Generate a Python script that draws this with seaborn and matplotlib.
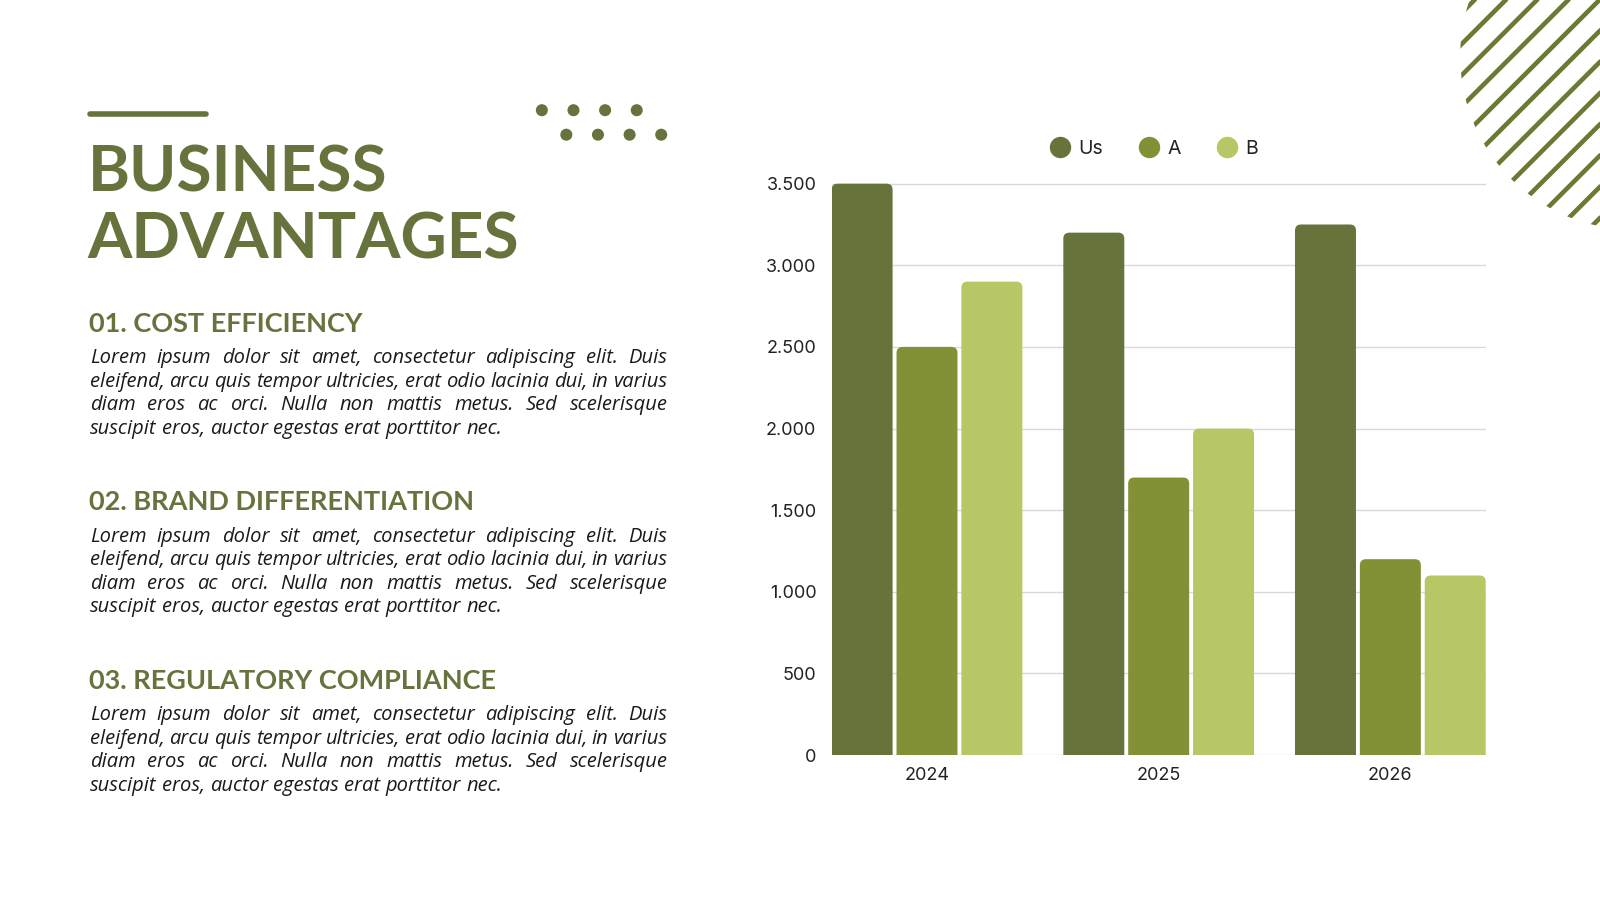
import seaborn as sns
import matplotlib.pyplot as plt
import pandas as pd
from matplotlib.patches import FancyBboxPatch, Circle
from matplotlib.lines import Line2D
from matplotlib.ticker import FuncFormatter

years = ['2024', '2025', '2026']
us = [3500, 3200, 3250]
comp_a = [2500, 1700, 1200]
comp_b = [2900, 2000, 1100]
series = ['Us', 'A', 'B']
colors = ['#66743c', '#839136', '#b7c765']
y_ticks = [0, 500, 1000, 1500, 2000, 2500, 3000, 3500]

title_lines = ['BUSINESS', 'ADVANTAGES']
headings = ['01. COST EFFICIENCY', '02. BRAND DIFFERENTIATION', '03. REGULATORY COMPLIANCE']
body = ['Lorem ipsum dolor sit amet, consectetur adipiscing elit. Duis',
        'eleifend, arcu quis tempor ultricies, erat odio lacinia dui, in varius',
        'diam eros ac orci. Nulla non mattis metus. Sed scelerisque',
        'suscipit eros, auctor egestas erat porttitor nec.']

GREEN = '#66733d'
W, H = 1568, 882  # layout measured on a 1568x882 view of the slide


def fx(x):
    return x / W


def fy(y):
    return 1 - y / H


sns.set_theme(style='white')
plt.rcParams['font.family'] = ['Lato', 'DejaVu Sans']

fig = plt.figure(figsize=(16, 9), dpi=100)
fig.patch.set_facecolor('white')

df = pd.DataFrame({
    'year': years * 3,
    'value': us + comp_a + comp_b,
    'series': [s for s in series for _ in years],
})

# chart
ymax = 3600
ax_top = 740 - ymax * 560 / 3500
ax = fig.add_axes([fx(815), fy(740), fx(1456) - fx(815), (740 - ax_top) / H])
sns.barplot(data=df, x='year', y='value', hue='series', palette=colors,
            width=0.84, gap=0.06, saturation=1, legend=False, ax=ax)
ax.set_ylim(0, ymax)
bars = list(ax.patches)
left = min(p.get_x() for p in bars)
right = max(p.get_x() + p.get_width() for p in bars)
ax.set_xlim(left, right)

fig.canvas.draw()
bb = ax.get_window_extent()
pxx = bb.width / (right - left)
pxy = bb.height / ymax
r_x = 6 / pxx
aspect = pxx / pxy
for p in bars:
    x, w, h = p.get_x(), p.get_width(), p.get_height()
    c = p.get_facecolor()
    p.remove()
    ext = r_x * aspect
    ax.add_patch(FancyBboxPatch((x, -ext), w, h + ext,
                                boxstyle=f'round,pad=0,rounding_size={r_x}',
                                mutation_aspect=aspect, fc=c, ec='none', zorder=2))

ax.set_yticks(y_ticks)
ax.yaxis.set_major_formatter(FuncFormatter(lambda v, _: f'{int(v):,}'.replace(',', '.')))
ax.grid(axis='y', color='#d9d9d9', lw=1)
ax.set_axisbelow(True)
for s in ax.spines.values():
    s.set_visible(False)
ax.tick_params(axis='y', length=0, pad=11, labelsize=13, labelcolor='#222222')
ax.tick_params(axis='x', length=0, pad=8.5, labelsize=13, labelcolor='#222222')
for lab in ax.get_xticklabels() + ax.get_yticklabels():
    lab.set_family(['Inter', 'DejaVu Sans'])
ax.set_xlabel('')
ax.set_ylabel('')

handles = [Line2D([], [], marker='o', ls='', color=c, markersize=14.4) for c in colors]
leg = fig.legend(handles, series, loc='center', bbox_to_anchor=(fx(1131), fy(146)),
                 ncol=3, frameon=False, fontsize=14, handletextpad=0.45,
                 columnspacing=1.85, handlelength=1.0)
for t in leg.get_texts():
    t.set_family(['Inter', 'DejaVu Sans'])
    t.set_color('#222222')

# decorations
deco = fig.add_axes([0, 0, 1, 1], zorder=-1)
deco.set_xlim(0, W)
deco.set_ylim(H, 0)
deco.axis('off')
deco.plot([88, 202], [112, 112], color=GREEN, lw=4, solid_capstyle='round')
for i in range(4):
    deco.add_patch(Circle((531 + 31 * i, 108), 5.2, color=GREEN))
    deco.add_patch(Circle((555 + 31 * i, 132), 5.2, color=GREEN))
clip = Circle((1601, 55), 170, transform=deco.transData, fc='none', ec='none')
deco.add_patch(clip)
for k in range(-4, 14):
    c0 = 1445 + 30.6 * k
    ln, = deco.plot([c0 - 400, c0 + 400], [400, -400], color='#6b7a33', lw=3.3,
                    solid_capstyle='butt')
    ln.set_clip_path(clip)

# text column
fig.text(fx(86), fy(188), title_lines[0], color=GREEN, fontsize=46, fontweight='bold')
fig.text(fx(86), fy(253), title_lines[1], color=GREEN, fontsize=46, fontweight='bold')

renderer = fig.canvas.get_renderer()
fig_w = fig.get_window_extent().width
BODY_FONT = ['Open Sans', 'DejaVu Sans']


def text_width(s, size):
    t = fig.text(0, 0, s, fontsize=size, style='italic', family=BODY_FONT)
    w = t.get_window_extent(renderer).width / fig_w
    t.remove()
    return w


# size the body so the (unjustified) last line spans what it does on the slide
body_size = 13 * (fx(489) - fx(88)) / text_width(body[-1], 13)


def justified(lines, x0, x1, y_base, step, size):
    space = text_width('a a', size) - text_width('aa', size)
    for i, line in enumerate(lines):
        words = line.split()
        y = fy(y_base + i * step)
        arts = [fig.text(0, y, w, fontsize=size, style='italic', color='#1a1a1a',
                         family=BODY_FONT) for w in words]
        widths = [a.get_window_extent(renderer).width / fig_w for a in arts]
        if i == len(lines) - 1:
            gap = space
        else:
            gap = (fx(x1) - fx(x0) - sum(widths)) / (len(words) - 1)
        x = fx(x0)
        for a, w in zip(arts, widths):
            a.set_x(x)
            x += w + gap


for j, head in enumerate(headings):
    y0 = 325 + 175 * j
    fig.text(fx(87), fy(y0), head, color=GREEN, fontsize=19.5, fontweight='bold')
    justified(body, 88, 654, y0 + 31, 23, body_size)

fig.savefig('out.png', dpi=100, facecolor='white')
